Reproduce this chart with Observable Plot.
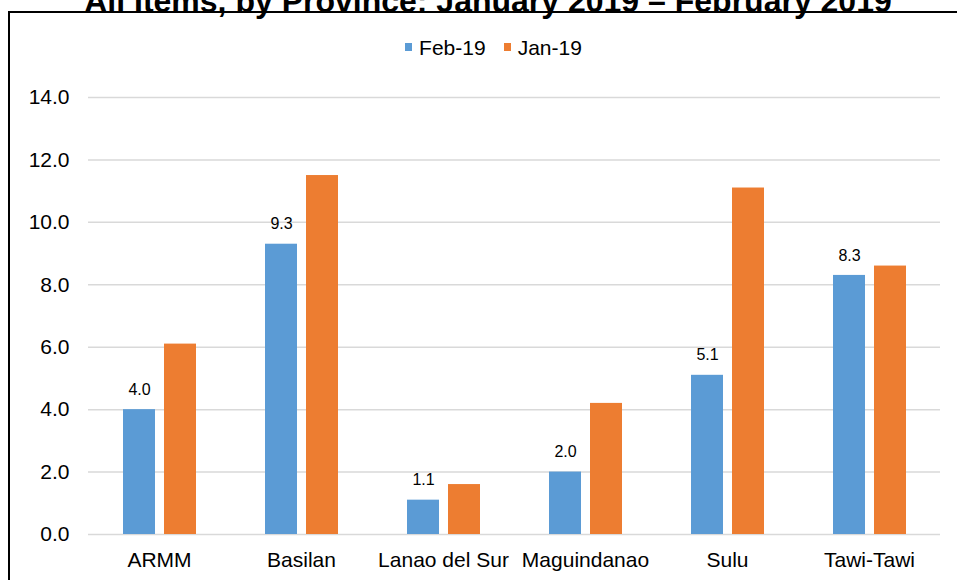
<!DOCTYPE html>
<html>
<head>
<meta charset="utf-8">
<script src="https://cdn.jsdelivr.net/npm/d3@7"></script>
<script src="https://cdn.jsdelivr.net/npm/@observablehq/plot@0.6"></script>
<style>
  html, body { margin: 0; padding: 0; background: #fff; overflow: hidden; }
  body { width: 957px; height: 580px; position: relative; font-family: Arial, "Liberation Sans", sans-serif; }
  #frame { position: absolute; left: 8px; top: 11px; width: 1000px; height: 700px; border-left: 2px solid #000; border-top: 2px solid #000; box-sizing: border-box; }
  #title { position: absolute; left: 0; width: 976px; top: -15px; text-align: center; font-weight: bold; font-size: 32px; line-height: 32px; color: #000; white-space: nowrap; }
  #legend { position: absolute; left: 0; width: 987px; top: 33px; text-align: center; font-size: 21px; line-height: 21px; color: #000; white-space: nowrap; }
  #legend .item { display: inline-flex; align-items: center; margin: 0 9px; }
  #legend .sw { width: 7px; height: 8px; display: inline-block; margin-right: 7px; }
  #chart { position: absolute; left: 0; top: 0; }
</style>
</head>
<body>
<div id="chart"></div>
<div id="frame"></div>
<div id="title">All Items, by Province: January 2019 – February 2019</div>
<div id="legend"></div>
<script>
const provinces = ["ARMM", "Basilan", "Lanao del Sur", "Maguindanao", "Sulu", "Tawi-Tawi"];
const feb19 = [4.0, 9.3, 1.1, 2.0, 5.1, 8.3];
const jan19 = [6.1, 11.5, 1.6, 4.2, 11.1, 8.6];
const seriesNames = ["Feb-19", "Jan-19"];
const seriesColors = ["#5B9BD5", "#ED7D31"];
const yTicks = [0, 2, 4, 6, 8, 10, 12, 14];

const data = provinces.flatMap((p, i) => [
  {province: p, series: "Feb-19", value: feb19[i]},
  {province: p, series: "Jan-19", value: jan19[i]}
]);

const legend = document.getElementById("legend");
seriesNames.forEach((s, i) => {
  const item = document.createElement("span");
  item.className = "item";
  const sw = document.createElement("span");
  sw.className = "sw";
  sw.style.background = seriesColors[i];
  item.appendChild(sw);
  item.appendChild(document.createTextNode(s));
  legend.appendChild(item);
});

const chart = Plot.plot({
  width: 957,
  height: 580,
  marginTop: 97,
  marginBottom: 46,
  marginLeft: 87,
  marginRight: 17,
  style: {fontFamily: "Arial, 'Liberation Sans', sans-serif", fontSize: "21px", background: "transparent", color: "#000"},
  fx: {domain: provinces, padding: 0, label: null, axis: "bottom", tickSize: 0, tickPadding: 18},
  x: {domain: seriesNames, axis: null, paddingInner: 0.22, paddingOuter: 0.84},
  y: {domain: [0, 14], ticks: yTicks, tickFormat: d => d.toFixed(1), tickSize: 0, tickPadding: 19, label: null},
  color: {domain: seriesNames, range: seriesColors},
  marks: [
    Plot.ruleY(yTicks, {stroke: "#D9D9D9", strokeWidth: 1.5}),
    Plot.barY(data, {fx: "province", x: "series", y: "value", fill: "series"}),
    Plot.text(data.filter(d => d.series === "Feb-19"), {
      fx: "province", x: "series", y: "value",
      text: d => d.value.toFixed(1), dy: -20, fontSize: 16, fill: "#000"
    })
  ]
});
document.getElementById("chart").appendChild(chart);
</script>
</body>
</html>
